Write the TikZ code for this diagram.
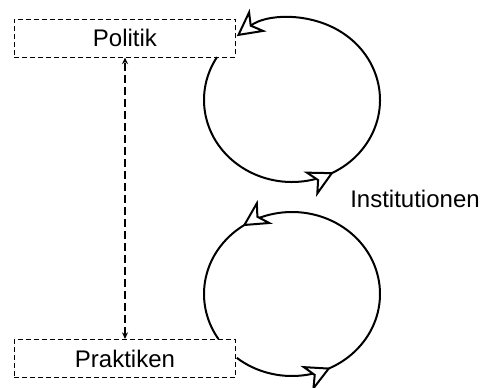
\documentclass[tikz,border=0pt]{standalone}
\usepackage{fontspec}
\setmainfont{Liberation Sans}
\usetikzlibrary{calc,arrows.meta,decorations.markings,positioning}
\tikzset{
myBox/.style={
	rectangle,draw=black,fill=white,line width=0.75pt,
	dash pattern=on 3.75pt off 2.25pt,
	minimum width=166pt,minimum height=28.5pt,
	inner sep=0pt,text=black,font=\fontsize{18}{20}\selectfont
}
, myLabel/.style={inner sep=0pt,text=black,font=\fontsize{18}{20}\selectfont}
% tips
, myTip/.tip={Stealth[fill=white,length=20pt,width=21pt,inset=6pt]}
, mySmallTip/.tip={Stealth[length=5pt,width=4.5pt]}
% links
, myLoop/.style={line width=1.5pt,line join=round,postaction={decorate}}
, myLink/.style={mySmallTip-mySmallTip,line width=1pt,dash pattern=on 6pt off 3pt}
}

\begin{document}
\begin{tikzpicture}[x=0.75pt,y=0.75pt]
	\useasboundingbox (0,0) rectangle (482,387);
	% nodes
	\node[myBox] (Politik) at (125,349) {Politik};
	\node[myBox] (Praktiken) at (125,28.5) {Praktiken};
	\node[myLabel] (Institutionen) at (415,188.5) {Institutionen};
	% loop centres
	\coordinate (TopC) at (292,287);
	\coordinate (BotC) at (292,93);
	\coordinate (TopStart) at ($(TopC)+(148.4:88 and 82)$);
	\coordinate (BotStart) at ($(BotC)+(231.1:88 and 82)$);

	% loops
	\draw[myLoop,-myTip,
		decoration={markings,mark=at position 0.44 with {\arrow{myTip}}}]
		(TopStart) arc[start angle=148.4,end angle=488.9,x radius=88,y radius=82];
	\draw[myLoop,
		decoration={markings,
			mark=at position 0.195 with {\arrow{myTip}},
			mark=at position 0.745 with {\arrow{myTip}}}]
		(BotStart) arc[start angle=231.1,end angle=573.3,x radius=88,y radius=82];

	% link
	\draw[myLink] (Praktiken) -- (Politik);
\end{tikzpicture}
\end{document}
